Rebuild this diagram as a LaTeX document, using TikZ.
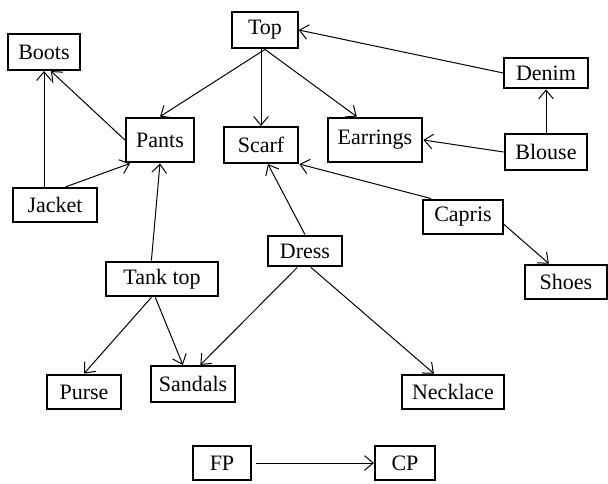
\documentclass[tikz,border=0pt]{standalone}
\usepackage{fontspec}
\setmainfont{Liberation Serif}
\usetikzlibrary{arrows.meta}
\tikzset{%
  pixels/.style={x=0.75pt,y=-0.75pt},
  item/.style={draw, line width=1.6pt, inner sep=0pt, minimum height=27pt,
    font=\fontsize{16.5}{19}\selectfont},
  link/.style={-{Straight Barb[length=6.5pt,width=11pt]}, line width=0.75pt}
}

\begin{document}
\begin{tikzpicture}[pixels]
    \useasboundingbox (0,0) rectangle (608,483);
    % Garments, top row.
    \node[item, minimum width=49pt, minimum height=27.5pt] (top) at (265,30) {Top};
    \node[item, minimum width=54.5pt] (boots) at (44,52) {Boots};
    \node[item, minimum width=62.5pt, minimum height=23pt] (denim) at (546,73) {Denim};
    % Second row.
    \node[item, minimum width=51pt, minimum height=33.5pt] (pants) at (160,140) {Pants};
    \node[item, minimum width=56pt] (scarf) at (261,145) {Scarf};
    \node[item, minimum width=71pt, minimum height=33.5pt] (earrings) at (375,140) {Earrings};
    \node[item, minimum width=62pt] (blouse) at (546,152) {Blouse};
    % Middle rows.
    \node[item, minimum width=63.5pt, minimum height=25.5pt] (jacket) at (55,205) {Jacket};
    \node[item, minimum width=59.5pt, minimum height=26pt] (capris) at (463,217) {Capris};
    \node[item, minimum width=56pt, minimum height=23pt] (dress) at (305,251) {Dress};
    \node[item, minimum width=84.5pt, minimum height=26pt] (tanktop) at (162,279) {Tank top};
    \node[item, minimum width=61pt, minimum height=26pt] (shoes) at (566,282) {Shoes};
    % Bottom row.
    \node[item, minimum width=56pt, minimum height=26pt] (purse) at (84,392) {Purse};
    \node[item, minimum width=63.5pt] (sandals) at (193,384) {Sandals};
    \node[item, minimum width=77pt, minimum height=26pt] (necklace) at (453,392) {Necklace};
    % Legend.
    \node[item, minimum width=43pt, minimum height=25.5pt] (fp) at (222,463) {FP};
    \node[item, minimum width=45pt, minimum height=26pt] (cp) at (405,463) {CP};
    % Arrows out of the top.
    \draw[link] (top.south) -- (pants.north);
    \draw[link] (top.south -| scarf.north) -- (scarf.north);
    \draw[link] (top.south) -- (earrings.128);
    \draw[link] (denim.west) -- (top.east);
    \draw[link] (blouse.north) -- (denim.south);
    \draw[link] (blouse.west) -- (earrings.east);
    % Left side.
    \draw[link] (pants.west) -- (boots.-70);
    \draw[link] (jacket.north -| boots.south) -- (boots.south);
    \draw[link] (jacket.60) -- (pants.-142);
    \draw[link] (tanktop.120) -- (pants.south);
    \draw[link] (tanktop.-120) -- (purse.north);
    \draw[link] (tanktop.-110) -- (sandals.118);
    % Right side.
    \draw[link] (dress.north) -- (scarf.-70);
    \draw[link] (capris.150) -- (scarf.south east);
    \draw[link] (capris.-10) -- (shoes.133);
    \draw[link] (dress.-115) -- (sandals.69);
    \draw[link] (dress.-70) -- (necklace.136);
    % Legend arrow.
    \draw[link, shorten <=3pt] (fp.east) -- (cp.west);
\end{tikzpicture}
\end{document}
